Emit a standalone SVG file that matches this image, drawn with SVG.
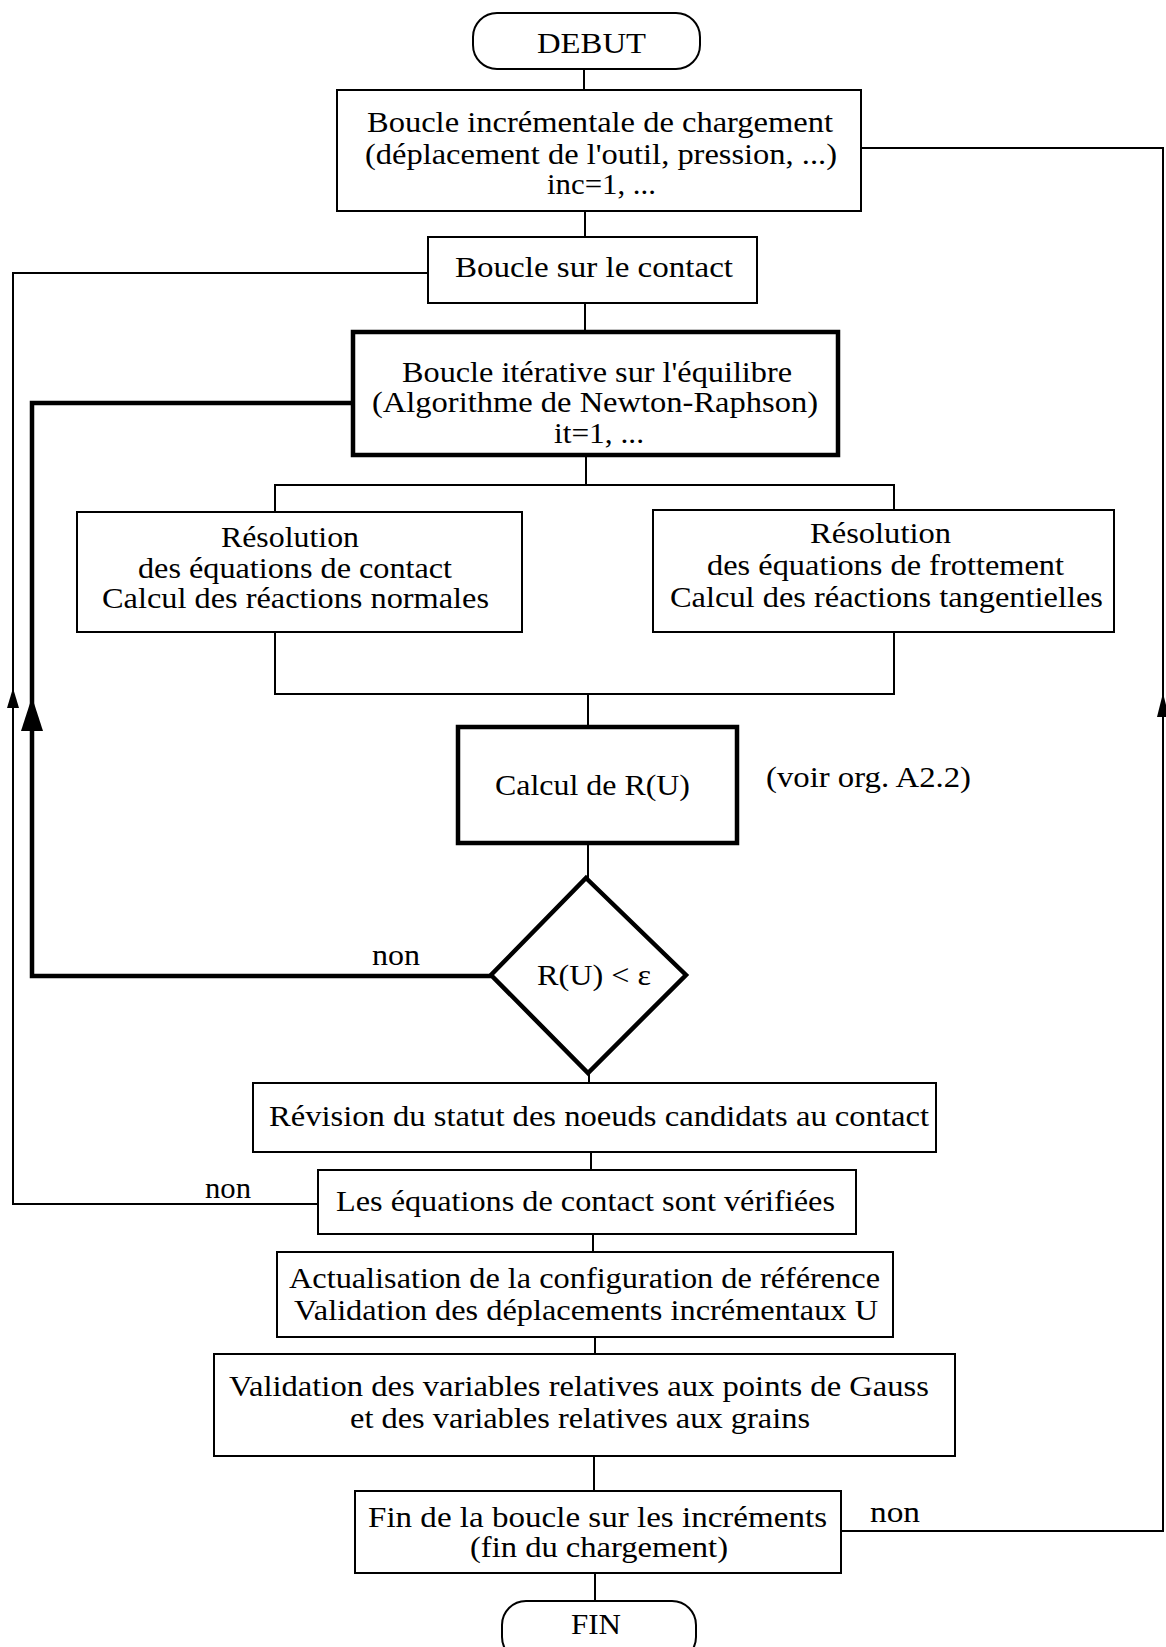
<svg xmlns="http://www.w3.org/2000/svg" width="1166" height="1647" viewBox="0 0 1166 1647">
<style>
.b{fill:#fff;stroke:#000;stroke-width:2}
.tk{fill:#fff;stroke:#000;stroke-width:4.5}
.c{fill:none;stroke:#000;stroke-width:2}
.ct{fill:none;stroke:#000;stroke-width:4.5}
text{font-family:"Liberation Serif","Times New Roman",serif;font-size:30px;fill:#000}
</style>
<rect width="1166" height="1647" fill="#fff"/>
<g id="connectors">
<path class="c" d="M584 69V90"/>
<path class="c" d="M861 148H1163V1531H841"/>
<path class="c" d="M585 211V237"/>
<path class="c" d="M428 273H13V1204H318"/>
<path class="c" d="M585 303V332"/>
<path class="ct" d="M353 403H32V976H491"/>
<path class="c" d="M586 455V485"/>
<path class="c" d="M275 512V485H894V510"/>
<path class="c" d="M275 632V694H894V632"/>
<path class="c" d="M588 694V727"/>
<path class="c" d="M588 843V878"/>
<path class="c" d="M589 1073V1083"/>
<path class="c" d="M591 1152V1170"/>
<path class="c" d="M593 1234V1252"/>
<path class="c" d="M595 1337V1354"/>
<path class="c" d="M594 1456V1491"/>
<path class="c" d="M595 1573V1601"/>
<polygon points="13,688 7,708 19,708" fill="#000"/>
<polygon points="32,697 21,731 43,731" fill="#000"/>
<polygon points="1163,693 1157,717 1169,717" fill="#000"/>
<text x="372" y="965" textLength="48" lengthAdjust="spacingAndGlyphs">non</text>
<text x="205" y="1198" textLength="46" lengthAdjust="spacingAndGlyphs">non</text>
<text x="870" y="1522" textLength="50" lengthAdjust="spacingAndGlyphs">non</text>
</g>
<g id="debut">
<rect class="b" x="473" y="13" width="227" height="56" rx="24"/>
<text x="537" y="53" textLength="109" lengthAdjust="spacingAndGlyphs">DEBUT</text>
</g>
<g id="boucle-inc">
<rect class="b" x="337" y="90" width="524" height="121"/>
<text x="367" y="132" textLength="466" lengthAdjust="spacingAndGlyphs">Boucle incrémentale de chargement</text>
<text x="365" y="164" textLength="472" lengthAdjust="spacingAndGlyphs">(déplacement de l'outil, pression, ...)</text>
<text x="547" y="194" textLength="109" lengthAdjust="spacingAndGlyphs">inc=1, ...</text>
</g>
<g id="boucle-contact">
<rect class="b" x="428" y="237" width="329" height="66"/>
<text x="455" y="277" textLength="278" lengthAdjust="spacingAndGlyphs">Boucle sur le contact</text>
</g>
<g id="boucle-equilibre">
<rect class="tk" x="353" y="332" width="485" height="123"/>
<text x="402" y="382" textLength="390" lengthAdjust="spacingAndGlyphs">Boucle itérative sur l'équilibre</text>
<text x="372" y="412" textLength="446" lengthAdjust="spacingAndGlyphs">(Algorithme de Newton-Raphson)</text>
<text x="554" y="443" textLength="90" lengthAdjust="spacingAndGlyphs">it=1, ...</text>
</g>
<g id="resolution-contact">
<rect class="b" x="77" y="512" width="445" height="120"/>
<text x="221" y="547" textLength="138" lengthAdjust="spacingAndGlyphs">Résolution</text>
<text x="138" y="578" textLength="314" lengthAdjust="spacingAndGlyphs">des équations de contact</text>
<text x="102" y="608" textLength="387" lengthAdjust="spacingAndGlyphs">Calcul des réactions normales</text>
</g>
<g id="resolution-frottement">
<rect class="b" x="653" y="510" width="461" height="122"/>
<text x="810" y="543" textLength="141" lengthAdjust="spacingAndGlyphs">Résolution</text>
<text x="707" y="575" textLength="357" lengthAdjust="spacingAndGlyphs">des équations de frottement</text>
<text x="670" y="607" textLength="433" lengthAdjust="spacingAndGlyphs">Calcul des réactions tangentielles</text>
</g>
<g id="calcul-ru">
<rect class="tk" x="458" y="727" width="279" height="116"/>
<text x="495" y="795" textLength="195" lengthAdjust="spacingAndGlyphs">Calcul de R(U)</text>
</g>
<g id="voir-org">
<text x="766" y="787" textLength="205" lengthAdjust="spacingAndGlyphs">(voir org. A2.2)</text>
</g>
<g id="test-ru">
<polygon class="tk" points="586,878 686,975 588,1073 491,975"/>
<text x="537" y="985" textLength="114" lengthAdjust="spacingAndGlyphs">R(U) &lt; ε</text>
</g>
<g id="revision">
<rect class="b" x="253" y="1083" width="683" height="69"/>
<text x="269" y="1126" textLength="660" lengthAdjust="spacingAndGlyphs">Révision du statut des noeuds candidats au contact</text>
</g>
<g id="equations-verifiees">
<rect class="b" x="318" y="1170" width="538" height="64"/>
<text x="336" y="1211" textLength="499" lengthAdjust="spacingAndGlyphs">Les équations de contact sont vérifiées</text>
</g>
<g id="actualisation">
<rect class="b" x="277" y="1252" width="616" height="85"/>
<text x="289" y="1288" textLength="591" lengthAdjust="spacingAndGlyphs">Actualisation de la configuration de référence</text>
<text x="294" y="1320" textLength="584" lengthAdjust="spacingAndGlyphs">Validation des déplacements incrémentaux U</text>
</g>
<g id="validation-variables">
<rect class="b" x="214" y="1354" width="741" height="102"/>
<text x="229" y="1396" textLength="700" lengthAdjust="spacingAndGlyphs">Validation des variables relatives aux points de Gauss</text>
<text x="350" y="1428" textLength="460" lengthAdjust="spacingAndGlyphs">et des variables relatives aux grains</text>
</g>
<g id="fin-boucle">
<rect class="b" x="355" y="1491" width="486" height="82"/>
<text x="368" y="1527" textLength="459" lengthAdjust="spacingAndGlyphs">Fin de la boucle sur  les incréments</text>
<text x="470" y="1557" textLength="258" lengthAdjust="spacingAndGlyphs">(fin du chargement)</text>
</g>
<g id="fin">
<rect class="b" x="502" y="1601" width="194" height="60" rx="24"/>
<text x="571" y="1634" textLength="50" lengthAdjust="spacingAndGlyphs">FIN</text>
</g>
</svg>
